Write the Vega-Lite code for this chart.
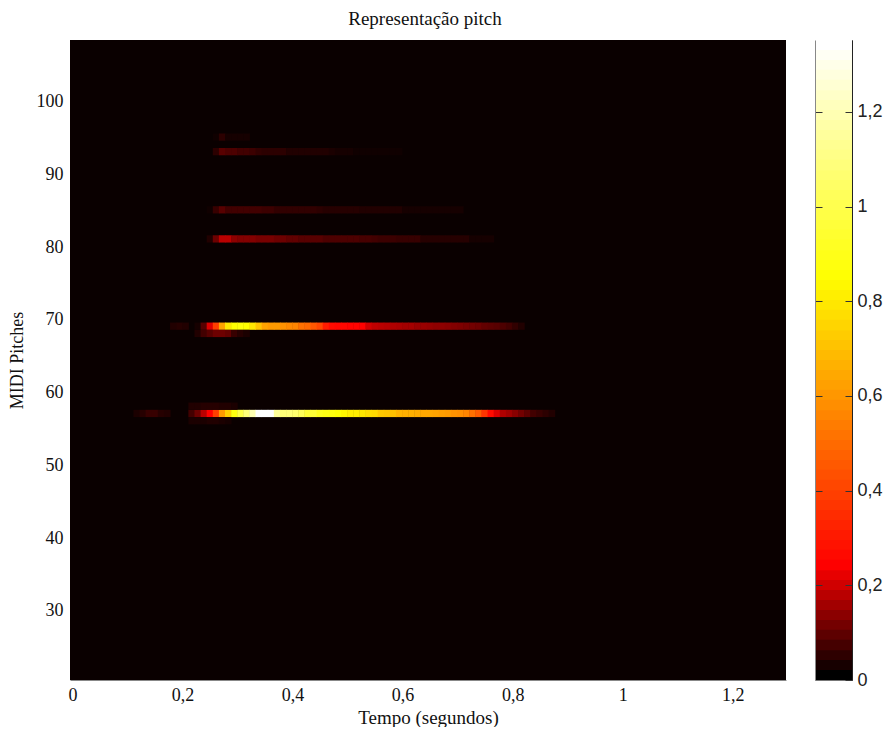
{"$schema":"https://vega.github.io/schema/vega-lite/v6.json","padding":{"left":8,"top":10,"right":0,"bottom":0},"background":"white","spacing":28,"resolve":{"scale":{"color":"independent"}},"hconcat":[{"width":716,"height":640,"title":{"text":"Representação pitch","font":"Liberation Serif","fontSize":19,"fontWeight":"normal","color":"#111111","offset":11,"dx":-3},"view":{"fill":"#0a0000","stroke":null},"data":{"values":[
{"t":0.1166,"p":57,"v":0.025},{"t":0.1277,"p":57,"v":0.035},{"t":0.1388,"p":57,"v":0.05},{"t":0.1499,"p":57,"v":0.05},{"t":0.161,"p":57,"v":0.035},{"t":0.1721,"p":57,"v":0.03},{"t":0.2165,"p":57,"v":0.06},{"t":0.2276,"p":57,"v":0.1},{"t":0.2387,"p":57,"v":0.17},{"t":0.2498,"p":57,"v":0.233},{"t":0.2609,"p":57,"v":0.38},{"t":0.272,"p":57,"v":0.6},{"t":0.2831,"p":57,"v":0.72},{"t":0.2942,"p":57,"v":0.87},{"t":0.3053,"p":57,"v":0.98},{"t":0.3164,"p":57,"v":1.08},{"t":0.3275,"p":57,"v":1.2},{"t":0.3386,"p":57,"v":1.352},{"t":0.3497,"p":57,"v":1.352},{"t":0.3608,"p":57,"v":1.352},{"t":0.3719,"p":57,"v":1.15},{"t":0.383,"p":57,"v":1.08},{"t":0.3941,"p":57,"v":1.08},{"t":0.4052,"p":57,"v":1.06},{"t":0.4163,"p":57,"v":1.02},{"t":0.4274,"p":57,"v":0.95},{"t":0.4385,"p":57,"v":0.95},{"t":0.4496,"p":57,"v":0.9},{"t":0.4607,"p":57,"v":0.88},{"t":0.4718,"p":57,"v":0.87},{"t":0.4829,"p":57,"v":0.85},{"t":0.494,"p":57,"v":0.82},{"t":0.5051,"p":57,"v":0.8},{"t":0.5162,"p":57,"v":0.8},{"t":0.5273,"p":57,"v":0.78},{"t":0.5384,"p":57,"v":0.76},{"t":0.5495,"p":57,"v":0.75},{"t":0.5606,"p":57,"v":0.71},{"t":0.5717,"p":57,"v":0.7},{"t":0.5828,"p":57,"v":0.69},{"t":0.5939,"p":57,"v":0.66},{"t":0.605,"p":57,"v":0.65},{"t":0.6161,"p":57,"v":0.65},{"t":0.6272,"p":57,"v":0.64},{"t":0.6383,"p":57,"v":0.63},{"t":0.6494,"p":57,"v":0.63},{"t":0.6605,"p":57,"v":0.62},{"t":0.6716,"p":57,"v":0.61},{"t":0.6827,"p":57,"v":0.6},{"t":0.6938,"p":57,"v":0.58},{"t":0.7049,"p":57,"v":0.57},{"t":0.716,"p":57,"v":0.55},{"t":0.7271,"p":57,"v":0.5},{"t":0.7382,"p":57,"v":0.45},{"t":0.7493,"p":57,"v":0.36},{"t":0.7604,"p":57,"v":0.26},{"t":0.7715,"p":57,"v":0.2},{"t":0.7826,"p":57,"v":0.16},{"t":0.7937,"p":57,"v":0.145},{"t":0.8048,"p":57,"v":0.125},{"t":0.8159,"p":57,"v":0.105},{"t":0.827,"p":57,"v":0.085},{"t":0.8381,"p":57,"v":0.06},{"t":0.8492,"p":57,"v":0.05},{"t":0.8603,"p":57,"v":0.04},{"t":0.8714,"p":57,"v":0.03},
{"t":0.2165,"p":58,"v":0.03},{"t":0.2276,"p":58,"v":0.03},{"t":0.2387,"p":58,"v":0.035},{"t":0.2498,"p":58,"v":0.035},{"t":0.2609,"p":58,"v":0.035},{"t":0.272,"p":58,"v":0.03},{"t":0.2831,"p":58,"v":0.03},{"t":0.2942,"p":58,"v":0.025},
{"t":0.2165,"p":56,"v":0.025},{"t":0.2276,"p":56,"v":0.025},{"t":0.2387,"p":56,"v":0.025},{"t":0.2498,"p":56,"v":0.03},{"t":0.2609,"p":56,"v":0.03},{"t":0.272,"p":56,"v":0.025},{"t":0.2831,"p":56,"v":0.02},
{"t":0.1832,"p":69,"v":0.03},{"t":0.1943,"p":69,"v":0.035},{"t":0.2054,"p":69,"v":0.03},{"t":0.2276,"p":69,"v":0.02},{"t":0.2387,"p":69,"v":0.08},{"t":0.2498,"p":69,"v":0.2},{"t":0.2609,"p":69,"v":0.38},{"t":0.272,"p":69,"v":0.62},{"t":0.2831,"p":69,"v":0.78},{"t":0.2942,"p":69,"v":0.84},{"t":0.3053,"p":69,"v":0.86},{"t":0.3164,"p":69,"v":0.84},{"t":0.3275,"p":69,"v":0.78},{"t":0.3386,"p":69,"v":0.7},{"t":0.3497,"p":69,"v":0.62},{"t":0.3608,"p":69,"v":0.6},{"t":0.3719,"p":69,"v":0.6},{"t":0.383,"p":69,"v":0.58},{"t":0.3941,"p":69,"v":0.56},{"t":0.4052,"p":69,"v":0.55},{"t":0.4163,"p":69,"v":0.5},{"t":0.4274,"p":69,"v":0.48},{"t":0.4385,"p":69,"v":0.44},{"t":0.4496,"p":69,"v":0.4},{"t":0.4607,"p":69,"v":0.3},{"t":0.4718,"p":69,"v":0.26},{"t":0.4829,"p":69,"v":0.25},{"t":0.494,"p":69,"v":0.25},{"t":0.5051,"p":69,"v":0.24},{"t":0.5162,"p":69,"v":0.24},{"t":0.5273,"p":69,"v":0.235},{"t":0.5384,"p":69,"v":0.19},{"t":0.5495,"p":69,"v":0.175},{"t":0.5606,"p":69,"v":0.17},{"t":0.5717,"p":69,"v":0.165},{"t":0.5828,"p":69,"v":0.16},{"t":0.5939,"p":69,"v":0.155},{"t":0.605,"p":69,"v":0.15},{"t":0.6161,"p":69,"v":0.15},{"t":0.6272,"p":69,"v":0.14},{"t":0.6383,"p":69,"v":0.14},{"t":0.6494,"p":69,"v":0.135},{"t":0.6605,"p":69,"v":0.13},{"t":0.6716,"p":69,"v":0.13},{"t":0.6827,"p":69,"v":0.125},{"t":0.6938,"p":69,"v":0.12},{"t":0.7049,"p":69,"v":0.115},{"t":0.716,"p":69,"v":0.11},{"t":0.7271,"p":69,"v":0.105},{"t":0.7382,"p":69,"v":0.1},{"t":0.7493,"p":69,"v":0.09},{"t":0.7604,"p":69,"v":0.085},{"t":0.7715,"p":69,"v":0.08},{"t":0.7826,"p":69,"v":0.07},{"t":0.7937,"p":69,"v":0.06},{"t":0.8048,"p":69,"v":0.045},{"t":0.8159,"p":69,"v":0.03},
{"t":0.2276,"p":68,"v":0.03},{"t":0.2387,"p":68,"v":0.06},{"t":0.2498,"p":68,"v":0.08},{"t":0.2609,"p":68,"v":0.1},{"t":0.272,"p":68,"v":0.1},{"t":0.2831,"p":68,"v":0.09},{"t":0.2942,"p":68,"v":0.05},{"t":0.3053,"p":68,"v":0.035},{"t":0.3164,"p":68,"v":0.025},
{"t":0.2498,"p":81,"v":0.03},{"t":0.2609,"p":81,"v":0.1},{"t":0.272,"p":81,"v":0.17},{"t":0.2831,"p":81,"v":0.17},{"t":0.2942,"p":81,"v":0.13},{"t":0.3053,"p":81,"v":0.12},{"t":0.3164,"p":81,"v":0.12},{"t":0.3275,"p":81,"v":0.12},{"t":0.3386,"p":81,"v":0.11},{"t":0.3497,"p":81,"v":0.11},{"t":0.3608,"p":81,"v":0.11},{"t":0.3719,"p":81,"v":0.1},{"t":0.383,"p":81,"v":0.1},{"t":0.3941,"p":81,"v":0.09},{"t":0.4052,"p":81,"v":0.09},{"t":0.4163,"p":81,"v":0.08},{"t":0.4274,"p":81,"v":0.08},{"t":0.4385,"p":81,"v":0.08},{"t":0.4496,"p":81,"v":0.08},{"t":0.4607,"p":81,"v":0.07},{"t":0.4718,"p":81,"v":0.07},{"t":0.4829,"p":81,"v":0.07},{"t":0.494,"p":81,"v":0.07},{"t":0.5051,"p":81,"v":0.07},{"t":0.5162,"p":81,"v":0.07},{"t":0.5273,"p":81,"v":0.065},{"t":0.5384,"p":81,"v":0.065},{"t":0.5495,"p":81,"v":0.06},{"t":0.5606,"p":81,"v":0.055},{"t":0.5717,"p":81,"v":0.055},{"t":0.5828,"p":81,"v":0.055},{"t":0.5939,"p":81,"v":0.05},{"t":0.605,"p":81,"v":0.05},{"t":0.6161,"p":81,"v":0.05},{"t":0.6272,"p":81,"v":0.05},{"t":0.6383,"p":81,"v":0.035},{"t":0.6494,"p":81,"v":0.035},{"t":0.6605,"p":81,"v":0.035},{"t":0.6716,"p":81,"v":0.035},{"t":0.6827,"p":81,"v":0.035},{"t":0.6938,"p":81,"v":0.035},{"t":0.7049,"p":81,"v":0.035},{"t":0.716,"p":81,"v":0.035},{"t":0.7271,"p":81,"v":0.02},{"t":0.7382,"p":81,"v":0.02},{"t":0.7493,"p":81,"v":0.02},{"t":0.7604,"p":81,"v":0.02},
{"t":0.2498,"p":85,"v":0.015},{"t":0.2609,"p":85,"v":0.05},{"t":0.272,"p":85,"v":0.08},{"t":0.2831,"p":85,"v":0.06},{"t":0.2942,"p":85,"v":0.06},{"t":0.3053,"p":85,"v":0.06},{"t":0.3164,"p":85,"v":0.06},{"t":0.3275,"p":85,"v":0.06},{"t":0.3386,"p":85,"v":0.06},{"t":0.3497,"p":85,"v":0.055},{"t":0.3608,"p":85,"v":0.055},{"t":0.3719,"p":85,"v":0.045},{"t":0.383,"p":85,"v":0.045},{"t":0.3941,"p":85,"v":0.045},{"t":0.4052,"p":85,"v":0.045},{"t":0.4163,"p":85,"v":0.045},{"t":0.4274,"p":85,"v":0.045},{"t":0.4385,"p":85,"v":0.045},{"t":0.4496,"p":85,"v":0.04},{"t":0.4607,"p":85,"v":0.035},{"t":0.4718,"p":85,"v":0.035},{"t":0.4829,"p":85,"v":0.035},{"t":0.494,"p":85,"v":0.035},{"t":0.5051,"p":85,"v":0.035},{"t":0.5162,"p":85,"v":0.035},{"t":0.5273,"p":85,"v":0.03},{"t":0.5384,"p":85,"v":0.03},{"t":0.5495,"p":85,"v":0.03},{"t":0.5606,"p":85,"v":0.03},{"t":0.5717,"p":85,"v":0.03},{"t":0.5828,"p":85,"v":0.03},{"t":0.5939,"p":85,"v":0.03},{"t":0.605,"p":85,"v":0.02},{"t":0.6161,"p":85,"v":0.02},{"t":0.6272,"p":85,"v":0.02},{"t":0.6383,"p":85,"v":0.02},{"t":0.6494,"p":85,"v":0.02},{"t":0.6605,"p":85,"v":0.02},{"t":0.6716,"p":85,"v":0.02},{"t":0.6827,"p":85,"v":0.02},{"t":0.6938,"p":85,"v":0.02},{"t":0.7049,"p":85,"v":0.02},
{"t":0.2609,"p":93,"v":0.04},{"t":0.272,"p":93,"v":0.08},{"t":0.2831,"p":93,"v":0.07},{"t":0.2942,"p":93,"v":0.07},{"t":0.3053,"p":93,"v":0.06},{"t":0.3164,"p":93,"v":0.06},{"t":0.3275,"p":93,"v":0.055},{"t":0.3386,"p":93,"v":0.045},{"t":0.3497,"p":93,"v":0.04},{"t":0.3608,"p":93,"v":0.04},{"t":0.3719,"p":93,"v":0.04},{"t":0.383,"p":93,"v":0.04},{"t":0.3941,"p":93,"v":0.03},{"t":0.4052,"p":93,"v":0.03},{"t":0.4163,"p":93,"v":0.03},{"t":0.4274,"p":93,"v":0.03},{"t":0.4385,"p":93,"v":0.03},{"t":0.4496,"p":93,"v":0.03},{"t":0.4607,"p":93,"v":0.03},{"t":0.4718,"p":93,"v":0.025},{"t":0.4829,"p":93,"v":0.02},{"t":0.494,"p":93,"v":0.02},{"t":0.5051,"p":93,"v":0.02},{"t":0.5162,"p":93,"v":0.015},{"t":0.5273,"p":93,"v":0.015},{"t":0.5384,"p":93,"v":0.015},{"t":0.5495,"p":93,"v":0.015},{"t":0.5606,"p":93,"v":0.015},{"t":0.5717,"p":93,"v":0.015},{"t":0.5828,"p":93,"v":0.015},{"t":0.5939,"p":93,"v":0.015},
{"t":0.2609,"p":95,"v":0.015},{"t":0.272,"p":95,"v":0.04},{"t":0.2831,"p":95,"v":0.02},{"t":0.2942,"p":95,"v":0.02},{"t":0.3053,"p":95,"v":0.02},{"t":0.3164,"p":95,"v":0.02}
]},"mark":{"type":"rect","width":6.6,"height":7.27},"encoding":{"x":{"field":"t","type":"quantitative","scale":{"domain":[-0.0047,1.297],"nice":false,"zero":false},"axis":{"values":[0,0.2,0.4,0.6,0.8,1,1.2],"labelExpr":"replace(toString(datum.value),'.',',')","title":"Tempo (segundos)","titleFont":"Liberation Serif","titleFontSize":19,"titleFontWeight":"normal","titleColor":"#111111","titlePadding":4,"labelFont":"Liberation Serif","labelFontSize":18,"labelColor":"#111111","labelPadding":6,"labelOverlap":false,"labelFlush":false,"ticks":false,"grid":false,"domain":true,"domainColor":"#888888"}},"y":{"field":"p","type":"quantitative","scale":{"domain":[20.35,108.35],"nice":false,"zero":false},"axis":{"values":[30,40,50,60,70,80,90,100],"title":"MIDI Pitches","titleFont":"Liberation Serif","titleFontSize":18,"titleFontWeight":"normal","titleColor":"#111111","titlePadding":10,"labelFont":"Liberation Serif","labelFontSize":18,"labelColor":"#111111","labelPadding":7,"labelOffset":1,"ticks":false,"grid":false,"domain":false}},"color":{"field":"v","type":"quantitative","legend":null,"scale":{"domain":[0,0.233,0.84,1.352],"range":["#000000","#ff0000","#ffff00","#ffffff"],"interpolate":"rgb","clamp":true}}}},
{"width":37,"height":640,"view":{"stroke":"#777777","fill":"white"},"data":{"values":[{"lo":0,"hi":0.023},{"lo":0.021,"hi":0.044},{"lo":0.042,"hi":0.065},{"lo":0.063,"hi":0.087},{"lo":0.085,"hi":0.108},{"lo":0.106,"hi":0.129},{"lo":0.127,"hi":0.15},{"lo":0.148,"hi":0.171},{"lo":0.169,"hi":0.192},{"lo":0.19,"hi":0.213},{"lo":0.211,"hi":0.234},{"lo":0.232,"hi":0.256},{"lo":0.254,"hi":0.277},{"lo":0.275,"hi":0.298},{"lo":0.296,"hi":0.319},{"lo":0.317,"hi":0.34},{"lo":0.338,"hi":0.361},{"lo":0.359,"hi":0.382},{"lo":0.38,"hi":0.403},{"lo":0.401,"hi":0.425},{"lo":0.423,"hi":0.446},{"lo":0.444,"hi":0.467},{"lo":0.465,"hi":0.488},{"lo":0.486,"hi":0.509},{"lo":0.507,"hi":0.53},{"lo":0.528,"hi":0.551},{"lo":0.549,"hi":0.572},{"lo":0.57,"hi":0.594},{"lo":0.592,"hi":0.615},{"lo":0.613,"hi":0.636},{"lo":0.634,"hi":0.657},{"lo":0.655,"hi":0.678},{"lo":0.676,"hi":0.699},{"lo":0.697,"hi":0.72},{"lo":0.718,"hi":0.741},{"lo":0.739,"hi":0.763},{"lo":0.761,"hi":0.784},{"lo":0.782,"hi":0.805},{"lo":0.803,"hi":0.826},{"lo":0.824,"hi":0.847},{"lo":0.845,"hi":0.868},{"lo":0.866,"hi":0.889},{"lo":0.887,"hi":0.91},{"lo":0.908,"hi":0.932},{"lo":0.93,"hi":0.953},{"lo":0.951,"hi":0.974},{"lo":0.972,"hi":0.995},{"lo":0.993,"hi":1.016},{"lo":1.014,"hi":1.037},{"lo":1.035,"hi":1.058},{"lo":1.056,"hi":1.079},{"lo":1.077,"hi":1.101},{"lo":1.099,"hi":1.122},{"lo":1.12,"hi":1.143},{"lo":1.141,"hi":1.164},{"lo":1.162,"hi":1.185},{"lo":1.183,"hi":1.206},{"lo":1.204,"hi":1.227},{"lo":1.225,"hi":1.248},{"lo":1.246,"hi":1.27},{"lo":1.268,"hi":1.291},{"lo":1.289,"hi":1.312},{"lo":1.31,"hi":1.333},{"lo":1.331,"hi":1.352}]},"resolve":{"axis":{"y":"independent"}},"layer":[{"mark":{"type":"rect"},"encoding":{"x":{"datum":0,"type":"quantitative","scale":{"domain":[0,1],"nice":false},"axis":null},"x2":{"datum":1},"y":{"field":"lo","type":"quantitative","scale":{"domain":[0,1.352],"nice":false,"zero":false},"axis":{"orient":"right","values":[0,0.2,0.4,0.6,0.8,1,1.2],"labelExpr":"replace(toString(datum.value),'.',',')","title":null,"labelFont":"Liberation Sans","labelFontSize":18,"labelColor":"#222222","labelPadding":12,"tickSize":-7,"tickColor":"#333333","domain":true,"domainColor":"#222222","grid":false,"zindex":1}},"y2":{"field":"hi"},"color":{"field":"lo","type":"quantitative","legend":null,"scale":{"domain":[0,0.233,0.84,1.331],"range":["#000000","#ff0000","#ffff00","#ffffff"],"interpolate":"rgb"}}}},{"mark":{"type":"rect","opacity":0},"encoding":{"x":{"datum":0,"type":"quantitative","axis":null},"x2":{"datum":1},"y":{"field":"lo","type":"quantitative","axis":{"orient":"left","values":[0.2,0.4,0.6,0.8,1,1.2],"labels":false,"title":null,"tickSize":-7,"tickColor":"#333333","domain":true,"domainColor":"#888888","grid":false,"zindex":1}},"y2":{"field":"hi"}}}]}]}
